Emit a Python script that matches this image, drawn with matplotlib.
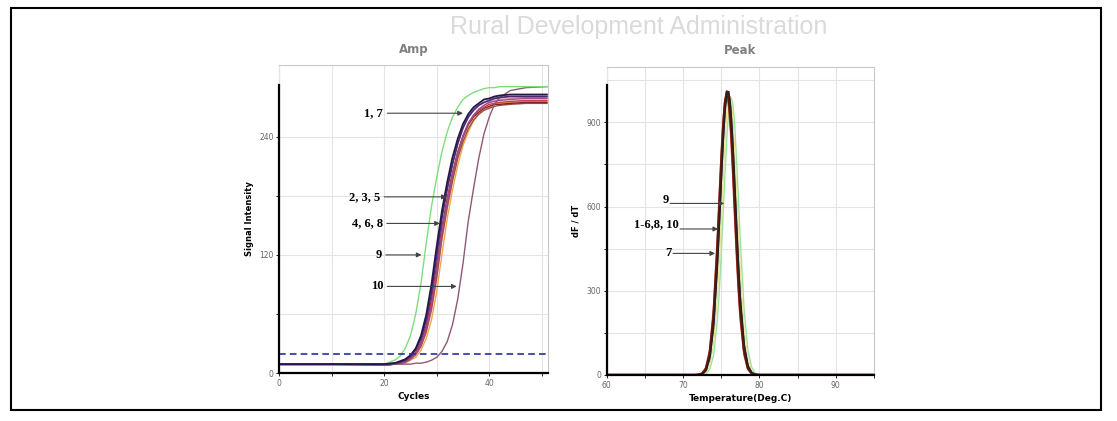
import matplotlib.pyplot as plt
from matplotlib.patches import Rectangle

# Amp 곡선 (cycle 별 signal)
cycles = [0, 10, 20, 22, 23, 24, 25, 26, 27, 28, 29, 30, 31, 32, 33, 34, 35, 36,
          37, 38, 39, 40, 41, 42, 44, 47, 51]
amp_1 = [9, 9, 9, 10, 12, 14, 18, 25, 38, 59, 90, 129, 165, 194, 219, 238, 253, 263, 270, 274, 278, 279, 281, 282, 283, 283, 283]
amp_7 = [9, 9, 9, 10, 11, 13, 17, 24, 35, 54, 82, 120, 158, 187, 212, 233, 249, 260, 267, 272, 275, 277, 279, 280, 281, 281, 281]
amp_4 = [8, 8, 8, 9, 10, 12, 15, 21, 31, 48, 74, 109, 148, 177, 203, 224, 240, 252, 260, 265, 269, 271, 273, 273, 274, 275, 275]
amp_3 = [8, 8, 8, 9, 10, 12, 15, 20, 30, 46, 71, 106, 145, 175, 202, 224, 241, 253, 261, 267, 270, 273, 274, 275, 276, 277, 277]
amp_2 = [8, 8, 8, 9, 10, 11, 14, 19, 29, 44, 68, 103, 144, 174, 201, 224, 241, 254, 262, 268, 272, 275, 276, 277, 278, 279, 279]
amp_6 = [8, 8, 8, 9, 10, 11, 14, 19, 27, 42, 65, 97, 137, 168, 195, 218, 235, 248, 257, 263, 267, 269, 271, 272, 273, 274, 274]
amp_5 = [8, 8, 8, 9, 10, 11, 14, 18, 27, 41, 63, 96, 136, 168, 196, 220, 239, 253, 262, 268, 272, 275, 277, 278, 279, 280, 280]
amp_8 = [8, 8, 8, 9, 9, 10, 13, 16, 23, 35, 54, 83, 121, 157, 186, 211, 231, 245, 256, 263, 267, 270, 273, 274, 275, 276, 276]
amp_9 = [8, 8, 9, 13, 17, 25, 38, 60, 91, 132, 169, 199, 225, 245, 260, 270, 278, 282, 285, 287, 289, 290, 290, 291, 291, 291, 291]
amp_10 = [9, 9, 9, 9, 9, 9, 9, 10, 10, 11, 13, 16, 22, 32, 49, 75, 111, 154, 187, 218, 243, 260, 273, 280, 287, 290, 291]
threshold = 19

# Peak 곡선 (온도 별 dF/dT)
temps = [60, 71.5, 72, 72.5, 73, 73.5, 74, 74.5, 74.75, 75, 75.25, 75.5, 75.75, 76,
         76.25, 76.5, 76.75, 77, 77.25, 77.5, 78, 78.5, 79, 79.5, 80, 95]
peak_main = [0, 0, 1, 4, 20, 72, 200, 434, 582, 733, 868, 966, 1009, 990, 913, 791, 643, 492, 353, 238, 90, 26, 6, 1, 0, 0]
peak_red = [0, 0, 1, 6, 26, 89, 236, 487, 637, 783, 904, 980, 999, 956, 860, 726, 576, 430, 301, 198, 71, 20, 4, 0, 0, 0]
peak_dark = [0, 0, 0, 3, 15, 57, 166, 381, 524, 677, 822, 937, 1004, 1010, 955, 848, 707, 554, 408, 282, 112, 35, 8, 2, 0, 0]
peak_9 = [0, 0, 0, 1, 4, 20, 70, 196, 298, 426, 570, 719, 851, 946, 989, 970, 895, 775, 631, 482, 234, 88, 26, 6, 1, 0]
peak_7 = [0, 0, 0, 2, 8, 34, 110, 278, 402, 546, 697, 835, 941, 995, 989, 923, 810, 667, 516, 375, 164, 56, 15, 3, 0, 0]

serif = ['Liberation Serif', 'DejaVu Serif']
grid_c = '#e4e4e4'
frame_c = '#c8c8c8'


def style_axes(ax, spine_top):
    for s in ['top', 'right']:
        ax.spines[s].set_color(frame_c)
        ax.spines[s].set_linewidth(0.8)
    ax.spines['left'].set_linewidth(1.6)
    ax.spines['bottom'].set_linewidth(1.6)
    ax.spines['left'].set_bounds(0, spine_top)
    ax.plot([0, 0], [0, 1], transform=ax.transAxes, color=frame_c, lw=0.8,
            clip_on=False, zorder=0)
    ax.grid(which='both', color=grid_c, lw=0.8)
    ax.set_axisbelow(True)
    ax.tick_params(which='both', length=2, width=0.6, pad=2, labelsize=5.5,
                   labelcolor='#666666')


fig = plt.figure(figsize=(11.17, 4.21), dpi=100)
fig.add_artist(Rectangle((11 / 1117, 1 - 410 / 421), 1090 / 1117, 402 / 421,
                         transform=fig.transFigure, fill=False, lw=1.5, ec='black'))
# 배경 워터마크 (제목과 겹치지 않게 조금 위로)
fig.text(0.572, 0.935, 'Rural Development Administration', fontsize=18,
         color='#dadada', ha='center', va='center', family='Liberation Sans',
         zorder=-1)

# Amp
ax1 = fig.add_axes([0.2500, 0.1140, 0.2406, 0.7316])
ax1.patch.set_alpha(0)
ax1.plot(cycles, amp_8, color='#f2a64a', lw=1.0)
ax1.plot(cycles, amp_5, color='#e79ab0', lw=1.0)
ax1.plot(cycles, amp_6, color='#9a5040', lw=1.0)
ax1.plot(cycles, amp_4, color='#7a2035', lw=1.0)
ax1.plot(cycles, amp_3, color='#c83c40', lw=1.0)
ax1.plot(cycles, amp_2, color='#a04a90', lw=1.0)
ax1.plot(cycles, amp_10, color='#8c5a72', lw=1.0)
ax1.plot(cycles, amp_9, color='#7ede7e', lw=1.0)
ax1.plot(cycles, amp_7, color='#4a2a6e', lw=1.3)
ax1.plot(cycles, amp_1, color='#24184e', lw=1.3)
ax1.axhline(threshold, color='#2c2ca0', lw=1.2, ls=(0, (4, 2.5)))
ax1.set_xlim(0, 51.2)
ax1.set_ylim(0, 313)
ax1.set_xticks([0, 20, 40])
ax1.set_xticks([10, 30, 50], minor=True)
ax1.set_yticks([0, 120, 240])
ax1.set_yticks([60, 180], minor=True)
style_axes(ax1, 293)
ax1.set_xlabel('Cycles', fontsize=6.5, fontweight='bold', labelpad=3)
ax1.set_ylabel('Signal Intensity', fontsize=6, fontweight='bold', labelpad=4)
ax1.set_title('Amp', fontsize=8.5, fontweight='bold', color='#808080', pad=9)

amp_notes = [('1, 7', 19.8, 264, 35.0), ('2, 3, 5', 19.2, 179, 31.9),
             ('4, 6, 8', 19.7, 152, 30.6), ('9', 19.5, 120, 27.1),
             ('10', 19.8, 88, 33.8)]
for label, tx, ty, ax_x in amp_notes:
    ax1.annotate(label, xy=(ax_x, ty), xytext=(tx, ty), ha='right', va='center',
                 fontsize=9, fontweight='bold', family=serif,
                 arrowprops=dict(arrowstyle='-|>', color='#444444', lw=0.8,
                                 mutation_scale=7, shrinkA=1, shrinkB=0))

# Peak
ax2 = fig.add_axes([0.5431, 0.1093, 0.2393, 0.7323])
ax2.patch.set_alpha(0)
ax2.plot(temps, peak_9, color='#9be39b', lw=1.0)
ax2.plot(temps, peak_7, color='#e9e19a', lw=1.0)
ax2.plot(temps, peak_red, color='#d83a22', lw=1.3)
ax2.plot(temps, peak_main, color='#5a1a12', lw=2.0)
ax2.plot(temps, peak_dark, color='#222222', lw=1.0)
ax2.set_xlim(60, 95)
ax2.set_ylim(0, 1098)
ax2.set_xticks([60, 70, 80, 90])
ax2.set_xticks([65, 75, 85, 95], minor=True)
ax2.set_yticks([0, 300, 600, 900])
ax2.set_yticks([150, 450, 750], minor=True)
style_axes(ax2, 1033)
ax2.axhline(1050, color=grid_c, lw=0.8, zorder=0)
ax2.set_xlabel('Temperature(Deg.C)', fontsize=6.5, fontweight='bold', labelpad=3)
ax2.set_ylabel('dF / dT', fontsize=6, fontweight='bold', labelpad=4)
ax2.set_title('Peak', fontsize=8.5, fontweight='bold', color='#808080', pad=9)

peak_notes = [('9', 68.3, 623, 611, 75.4), ('1-6,8, 10', 69.6, 537, 520, 74.6),
              ('7', 68.7, 433, 433, 74.2)]
for label, tx, ty, ly, ax_x in peak_notes:
    ax2.text(tx - 0.2, ty, label, ha='right', va='center', fontsize=9,
             fontweight='bold', family=serif)
    ax2.annotate('', xy=(ax_x, ly), xytext=(tx, ly),
                 arrowprops=dict(arrowstyle='-|>', color='#444444', lw=0.8,
                                 mutation_scale=7, shrinkA=0, shrinkB=0))

fig.savefig('out.png', dpi=100)
